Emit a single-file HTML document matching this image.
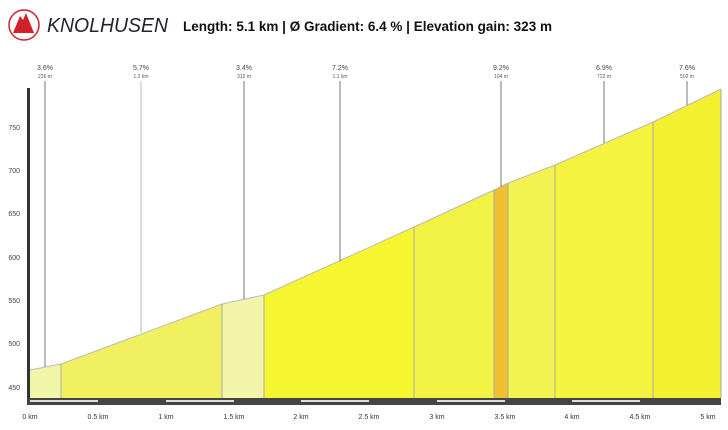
<!DOCTYPE html><html><head><style>body{margin:0;background:#fff;width:728px;height:425px;overflow:hidden;font-family:"Liberation Sans",sans-serif}</style></head><body>
<svg width="728" height="425" xmlns="http://www.w3.org/2000/svg" font-family="Liberation Sans, sans-serif">
<circle cx="24" cy="25" r="15" fill="none" stroke="#d0202a" stroke-width="1.5"/>
<path d="M13 33 L20 16 L23 20 L26 13 L34 33 Z" fill="#d0202a"/>
<text x="47" y="32" font-size="20" font-style="italic" fill="#223" textLength="121" lengthAdjust="spacingAndGlyphs">KNOLHUSEN</text>
<text x="183" y="31" font-size="14" font-weight="bold" fill="#111" textLength="369" lengthAdjust="spacingAndGlyphs">Length: 5.1 km  |  Ø Gradient: 6.4 %  |  Elevation gain: 323 m</text>
<g font-size="7" fill="#444" text-anchor="end">
<text x="20" y="130">750</text><text x="20" y="173">700</text><text x="20" y="216">650</text><text x="20" y="260">600</text><text x="20" y="303">550</text><text x="20" y="346">500</text><text x="20" y="390">450</text></g>
<polygon points="30,370 61,364 61,398 30,398" fill="#f0f5a8"/>
<polygon points="61,364 222,304 222,398 61,398" fill="#f0f060"/>
<polygon points="222,304 264,295 264,398 222,398" fill="#f2f5a8"/>
<polygon points="264,295 414,227 414,398 264,398" fill="#f5f530"/>
<polygon points="414,227 494,190 494,398 414,398" fill="#f2f245"/>
<polygon points="494,190 508,183 508,398 494,398" fill="#f0c030"/>
<polygon points="508,183 555,165 555,398 508,398" fill="#f2f250"/>
<polygon points="555,165 653,122 653,398 555,398" fill="#f3f340"/>
<polygon points="653,122 721,89 721,398 653,398" fill="#f3f030"/>
<polyline points="30,370 61,364 222,304 264,295 414,227 494,190 508,183 555,165 653,122 721,89" fill="none" stroke="#bbb" stroke-width="1"/>
<g stroke="#aaa" stroke-width="1"><line x1="61" y1="364" x2="61" y2="398"/><line x1="222" y1="304" x2="222" y2="398"/><line x1="264" y1="295" x2="264" y2="398"/><line x1="414" y1="227" x2="414" y2="398"/><line x1="494" y1="190" x2="494" y2="398"/><line x1="508" y1="183" x2="508" y2="398"/><line x1="555" y1="165" x2="555" y2="398"/><line x1="653" y1="122" x2="653" y2="398"/><line x1="721" y1="89" x2="721" y2="398"/></g>
<g stroke="#777" stroke-width="1"><line x1="45" y1="81" x2="45" y2="367"/><line x1="141" y1="81" x2="141" y2="333" stroke="#bbb"/><line x1="244" y1="81" x2="244" y2="299"/><line x1="340" y1="81" x2="340" y2="261"/><line x1="501" y1="81" x2="501" y2="187"/><line x1="604" y1="81" x2="604" y2="143"/><line x1="687" y1="81" x2="687" y2="105"/></g>
<g font-size="7" fill="#444" text-anchor="middle">
<text x="45" y="70">3.6%</text><text x="141" y="70">5.7%</text><text x="244" y="70">3.4%</text><text x="340" y="70">7.2%</text><text x="501" y="70">9.2%</text><text x="604" y="70">6.9%</text><text x="687" y="70">7.6%</text></g>
<g font-size="5" fill="#555" text-anchor="middle">
<text x="45" y="78">226 m</text><text x="141" y="78">1.2 km</text><text x="244" y="78">312 m</text><text x="340" y="78">1.1 km</text><text x="501" y="78">104 m</text><text x="604" y="78">722 m</text><text x="687" y="78">502 m</text></g>
<rect x="27" y="88" width="3" height="312" fill="#333"/>
<rect x="27" y="398" width="694" height="7" fill="#444"/>
<g fill="#ddd"><rect x="30" y="400" width="68" height="2"/><rect x="166" y="400" width="68" height="2"/><rect x="301" y="400" width="68" height="2"/><rect x="437" y="400" width="68" height="2"/><rect x="572" y="400" width="68" height="2"/></g>
<g font-size="7" fill="#333" text-anchor="middle">
<text x="30" y="419">0 km</text><text x="98" y="419">0.5 km</text><text x="166" y="419">1 km</text><text x="234" y="419">1.5 km</text><text x="301" y="419">2 km</text><text x="369" y="419">2.5 km</text><text x="437" y="419">3 km</text><text x="505" y="419">3.5 km</text><text x="572" y="419">4 km</text><text x="640" y="419">4.5 km</text><text x="708" y="419">5 km</text></g>
</svg></body></html>
